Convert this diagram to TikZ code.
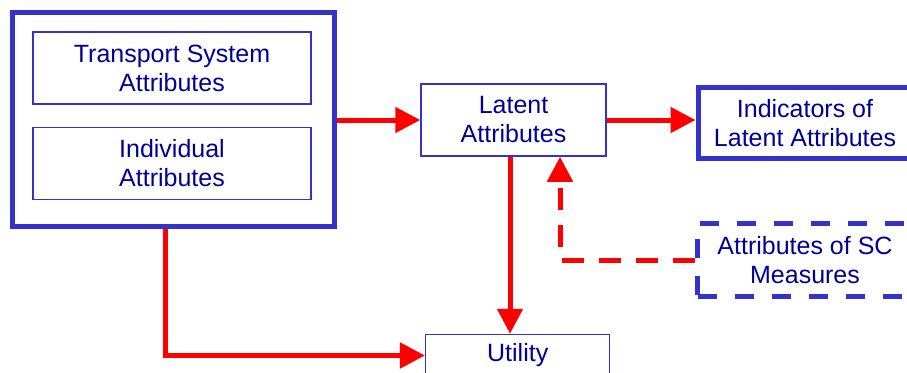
\documentclass[tikz,border=0pt]{standalone}
\usepackage{fontspec}
\setmainfont{Liberation Sans}
\usetikzlibrary{arrows.meta}
\definecolor{boxblue}{RGB}{51,51,204}
\definecolor{txtnavy}{RGB}{0,0,150}
\tikzstyle{box} = [draw=boxblue, text=txtnavy, align=center, inner sep=0pt, font=\fontsize{25}{29}\selectfont]
\tikzstyle{thinbox} = [box, line width=1.5pt]
\tikzstyle{thickbox} = [box, line width=5pt]
\tikzstyle{dashbox} = [thickbox, dash pattern=on 19pt off 18pt]
\tikzstyle{arrow} = [line width=5pt, red, -{Triangle[length=25pt,width=25pt]}]
\tikzstyle{dasharrow} = [arrow, dash pattern=on 22pt off 15pt]

\begin{document}
\begin{tikzpicture}[x=1pt, y=-1pt]
	\useasboundingbox (0,0) rectangle (907,372);
	\clip (0,0) rectangle (907,372);

	% left group
	\node[thickbox, minimum width=322pt, minimum height=214pt] (outer) at (173.5,119.5) {};
	\node[thinbox, minimum width=278pt, minimum height=72pt] (transport) at (172,68) {Transport System\\Attributes};
	\node[thinbox, minimum width=278pt, minimum height=72pt] (individual) at (172,163.3) {Individual\\Attributes};

	% middle and right
	\node[thinbox, minimum width=185pt, minimum height=72pt] (latent) at (513.5,120) {Latent\\Attributes};
	\node[thickbox, minimum width=214pt, minimum height=71.5pt] (indicators) at (805,123.2) {Indicators of\\Latent Attributes};
	\node[dashbox, minimum width=215pt, minimum height=72.7pt] (sc) at (805,260) {Attributes of SC\\Measures};
	\node[thinbox, minimum width=184pt, minimum height=42pt] (utility) at (517.7,355.5) {Utility};

	% arrows
	\draw[arrow] (outer.east |- latent.west) -- (latent.west);
	\draw[arrow] (latent.east) -- (latent.east -| indicators.west);
	\draw[arrow] ([xshift=-3.5pt]latent.south) -- ([xshift=-3.5pt]latent.south |- utility.north);
	\draw[arrow] ([xshift=-8.5pt]outer.south) |- (utility.west);
	\draw[dasharrow] (sc.west) -| ([xshift=46.5pt]latent.south);

\end{tikzpicture}
\end{document}
